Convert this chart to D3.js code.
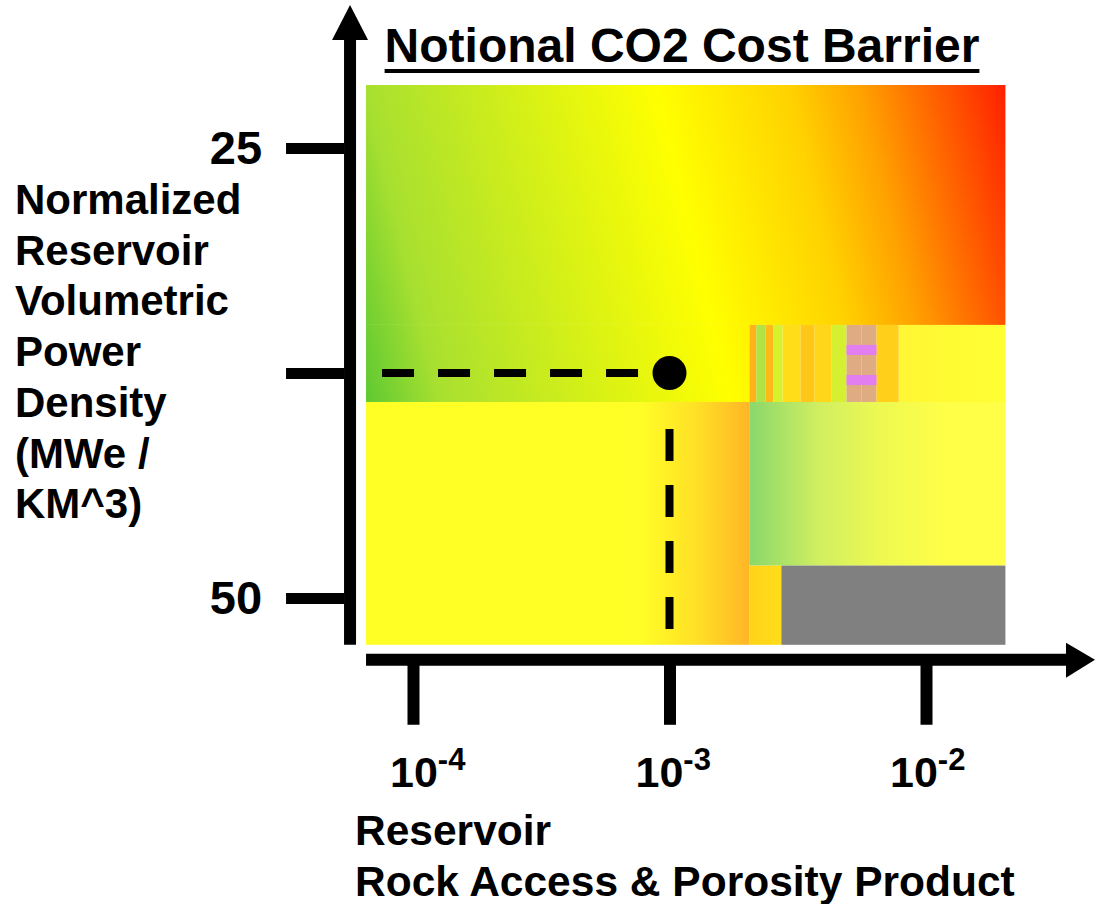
<!DOCTYPE html>
<html>
<head>
<meta charset="utf-8">
<script src="https://cdn.jsdelivr.net/npm/d3@7"></script>
<style>
  body { margin: 0; background: #fff; }
  svg text { font-family: "Liberation Sans", Arial, sans-serif; font-weight: bold; fill: #000; }
</style>
</head>
<body>
<svg id="chart"></svg>
<script>
// axis ticks
const xTicks = [1e-4, 1e-3, 1e-2]
const xTickExp = ['-4', '-3', '-2']
const yTicks = [25, 37.5, 50]
const yTickLabels = ['25', '', '50']

// operating point
const pointX = 1e-3
const pointY = 37.5

// extent of the cost map (data units)
const mapX = [6.56e-5, 2.04e-2]
const mapY = [21.5, 52.6]

// zones of the cost map
const zoneNames = ['band', 'bandLow', 'lowLeft', 'lowRight', 'midRight', 'cornerStrip', 'noData']
const zoneX0 = [6.56e-5, 6.56e-5, 6.56e-5, 2.05e-3, 7.82e-3, 2.05e-3, 2.73e-3]
const zoneX1 = [2.04e-2, 2.05e-3, 2.05e-3, 2.04e-2, 2.04e-2, 2.73e-3, 2.04e-2]
const zoneY0 = [21.5, 34.83, 39.11, 39.11, 34.83, 48.2, 48.2]
const zoneY1 = [34.83, 39.11, 52.6, 48.2, 39.11, 52.6, 52.6]
// relative cost (0 cheap .. 1 expensive) read across each zone at these x values
const zoneCostX = [
    [3.31e-5, 6.6e-5, 8.9e-4, 2.95e-3, 5.6e-3, 2.04e-2],
    [3.31e-5, 6.6e-5, 8.9e-4, 2.95e-3, 5.6e-3, 2.04e-2],
    [6.6e-5, 7.5e-4, 1.3e-3, 2.05e-3],
    [2.05e-3, 3.8e-3, 6.5e-3, 1.2e-2, 2.04e-2],
    [7.82e-3, 2.04e-2],
    [2.05e-3, 2.73e-3],
    null
]
const zoneCost = [
    [0, 0.1, 0.5, 0.62, 0.75, 1],
    [0, 0.1, 0.5, 0.62, 0.75, 1],
    [0.5, 0.5, 0.6, 0.73],
    [0, 0.2, 0.38, 0.5, 0.5],
    [0.53, 0.5],
    [0.63, 0.6],
    null
]

// scan artefact strip between the zones
const stripeX0 = [2.05e-3, 2.18e-3, 2.37e-3, 2.54e-3, 2.76e-3, 3.24e-3, 3.67e-3, 4.27e-3, 4.9e-3, 5.61e-3, 6.41e-3]
const stripeX1 = [2.18e-3, 2.37e-3, 2.54e-3, 2.76e-3, 3.24e-3, 3.67e-3, 4.27e-3, 4.9e-3, 5.61e-3, 6.41e-3, 7.82e-3]
const stripeCost = [0.72, 0.1, 0.7, 0.3, 0.6, 0.66, 0.62, 0.28, null, null, 0.64]
const stripeY = [34.83, 39.11]
const barY0 = [35.94, 37.61]
const barY1 = [36.5, 38.17]

const width = 1096
const height = 904

const x = d3.scaleLog().domain([1e-4, 1e-2]).range([413, 926])
const y = d3.scaleLinear().domain([25, 50]).range([148, 598])
const color = d3.scaleLinear()
    .domain([0, 0.1, 0.5, 0.75, 1])
    .range(['#5cc832', '#a8e030', '#ffff00', '#ffa000', '#ff2000'])

// band zones have tilted iso-cost lines, lower zones are washed out
const zoneSkew = { band: 13.2, bandLow: 13.2 }
const zoneOpacity = { lowLeft: 0.85, lowRight: 0.72, midRight: 0.8, cornerStrip: 0.9 }
// tick label nudges (label start relative to tick)
const xLabelDx = [-23, -34, -36]

const svg = d3.select('#chart')
    .attr('width', width)
    .attr('height', height)

svg.append('rect').attr('width', width).attr('height', height).attr('fill', '#fff')

const defs = svg.append('defs')
const mapTop = y(mapY[0])
const mapBottom = y(mapY[1])
const mapLeft = x(mapX[0])

zoneNames.forEach((name, i) => {
    let fill = '#808080'
    if (zoneCost[i]) {
        const xs = zoneCostX[i]
        const gx1 = x(xs[0])
        const gx2 = x(xs[xs.length - 1])
        const grad = defs.append('linearGradient')
            .attr('id', 'g-' + name)
            .attr('gradientUnits', 'userSpaceOnUse')
            .attr('x1', gx1).attr('x2', gx2)
            .attr('y1', 0).attr('y2', 0)
        if (zoneSkew[name]) {
            const k = Math.tan(zoneSkew[name] * Math.PI / 180)
            grad.attr('gradientTransform', `translate(${-mapTop * k},0) skewX(${zoneSkew[name]})`)
        }
        grad.selectAll('stop')
            .data(xs.map((v, j) => ({ off: (x(v) - gx1) / (gx2 - gx1), c: zoneCost[i][j] })))
            .enter().append('stop')
            .attr('offset', d => d.off)
            .attr('stop-color', d => color(d.c))
        fill = `url(#g-${name})`
    }
    svg.append('rect')
        .attr('x', x(zoneX0[i])).attr('y', y(zoneY0[i]))
        .attr('width', x(zoneX1[i]) - x(zoneX0[i]))
        .attr('height', y(zoneY1[i]) - y(zoneY0[i]))
        .attr('fill', fill)
        .attr('fill-opacity', zoneOpacity[name] || 1)
})

// artefact stripes
svg.append('g')
    .selectAll('rect')
    .data(stripeX0.map((v, i) => ({ x0: v, x1: stripeX1[i], c: stripeCost[i] })))
    .enter().append('rect')
    .attr('x', d => x(d.x0))
    .attr('width', d => x(d.x1) - x(d.x0))
    .attr('y', y(stripeY[0]))
    .attr('height', y(stripeY[1]) - y(stripeY[0]))
    .attr('fill', d => d.c === null ? '#dca276' : color(d.c))
    .attr('fill-opacity', 0.9)

svg.append('g')
    .selectAll('rect')
    .data(barY0.map((v, i) => ({ y0: v, y1: barY1[i] })))
    .enter().append('rect')
    .attr('x', x(stripeX0[8]))
    .attr('width', x(stripeX1[9]) - x(stripeX0[8]))
    .attr('y', d => y(d.y0))
    .attr('height', d => y(d.y1) - y(d.y0))
    .attr('fill', '#e27ef0')

// guide lines to the point
const px = x(pointX)
const py = y(pointY)
svg.append('line')
    .attr('x1', mapLeft + 16).attr('x2', px)
    .attr('y1', py).attr('y2', py)
    .attr('stroke', '#000').attr('stroke-width', 8)
    .attr('stroke-dasharray', '32,24')
svg.append('line')
    .attr('x1', px).attr('x2', px)
    .attr('y1', py + 56).attr('y2', mapBottom - 5)
    .attr('stroke', '#000').attr('stroke-width', 8)
    .attr('stroke-dasharray', '32,24')
svg.append('circle')
    .attr('cx', px).attr('cy', py).attr('r', 17)
    .attr('fill', '#000')

// y axis
const yAxisX = mapLeft - 16
svg.append('line')
    .attr('x1', yAxisX).attr('x2', yAxisX)
    .attr('y1', 36).attr('y2', mapBottom)
    .attr('stroke', '#000').attr('stroke-width', 12)
svg.append('path')
    .attr('d', `M${yAxisX},5 L${yAxisX + 18},40 L${yAxisX - 18},40 Z`)
    .attr('fill', '#000')

const gy = svg.append('g')
    .attr('transform', `translate(${yAxisX - 6},0)`)
    .call(d3.axisLeft(y).tickValues(yTicks).tickSize(58).tickPadding(24)
        .tickFormat((d, i) => yTickLabels[i]))
gy.select('.domain').remove()
gy.selectAll('.tick line').attr('stroke', '#000').attr('stroke-width', 11)
gy.selectAll('.tick text')
    .attr('font-size', 47)
    .attr('font-family', '"Liberation Sans", Arial, sans-serif')
    .attr('font-weight', 'bold')
    .attr('fill', '#000')

// x axis
const xAxisY = mapBottom + 15
svg.append('line')
    .attr('x1', mapLeft).attr('x2', 1068)
    .attr('y1', xAxisY).attr('y2', xAxisY)
    .attr('stroke', '#000').attr('stroke-width', 12)
svg.append('path')
    .attr('d', `M1066,${xAxisY - 17} L1095,${xAxisY} L1066,${xAxisY + 18} Z`)
    .attr('fill', '#000')

const gx = svg.append('g')
    .attr('transform', `translate(0,${xAxisY})`)
    .call(d3.axisBottom(x).tickValues(xTicks).tickSize(65).tickFormat(''))
gx.select('.domain').remove()
gx.selectAll('.tick line').attr('stroke', '#000').attr('stroke-width', 12)

xTicks.forEach((t, i) => {
    const base = svg.append('text')
        .attr('x', x(t) + xLabelDx[i]).attr('y', 787)
        .attr('font-size', 43)
        .text('10')
    const w = base.node().getComputedTextLength()
    svg.append('text')
        .attr('x', x(t) + xLabelDx[i] + w).attr('y', 770)
        .attr('font-size', 31)
        .text(xTickExp[i])
})

// axis titles
svg.append('text')
    .attr('font-size', 42.5)
    .selectAll('tspan')
    .data(['Reservoir', 'Rock Access & Porosity Product'])
    .enter().append('tspan')
    .attr('x', 355)
    .attr('y', (d, i) => 845 + i * 51)
    .text(d => d)

svg.append('text')
    .attr('font-size', 42)
    .selectAll('tspan')
    .data(['Normalized', 'Reservoir', 'Volumetric', 'Power', 'Density', '(MWe /', 'KM^3)'])
    .enter().append('tspan')
    .attr('x', 15)
    .attr('y', (d, i) => 214 + i * 50.7)
    .text(d => d)

// title
const title = svg.append('text')
    .attr('x', 682).attr('y', 62)
    .attr('text-anchor', 'middle')
    .attr('font-size', 48)
    .text('Notional CO2 Cost Barrier')
const tw = title.node().getComputedTextLength()
svg.append('line')
    .attr('x1', 682 - tw / 2).attr('x2', 682 + tw / 2)
    .attr('y1', 71).attr('y2', 71)
    .attr('stroke', '#000').attr('stroke-width', 4)
</script>
</body>
</html>
